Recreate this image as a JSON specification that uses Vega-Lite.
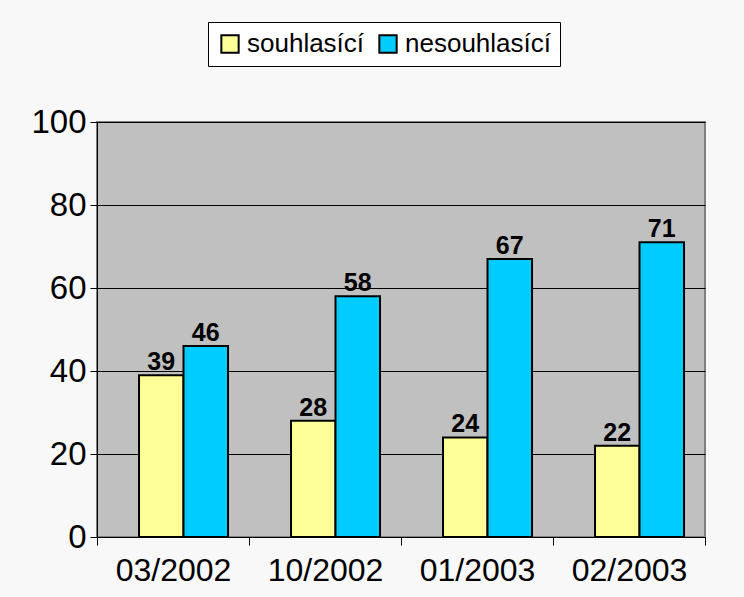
{
  "$schema": "https://vega.github.io/schema/vega-lite/v6.json",
  "width": 608,
  "height": 415,
  "autosize": "none",
  "padding": {"left": 97, "top": 122, "right": 39, "bottom": 60},
  "background": "#f8f8f8",
  "config": {
    "font": "Liberation Sans",
    "view": {"fill": "#c0c0c0", "stroke": "#808080", "strokeWidth": 2}
  },
  "data": {
    "values": [
      {"period": "03/2002", "group": "souhlasící", "value": 39},
      {"period": "03/2002", "group": "nesouhlasící", "value": 46},
      {"period": "10/2002", "group": "souhlasící", "value": 28},
      {"period": "10/2002", "group": "nesouhlasící", "value": 58},
      {"period": "01/2003", "group": "souhlasící", "value": 24},
      {"period": "01/2003", "group": "nesouhlasící", "value": 67},
      {"period": "02/2003", "group": "souhlasící", "value": 22},
      {"period": "02/2003", "group": "nesouhlasící", "value": 71}
    ]
  },
  "encoding": {
    "x": {
      "field": "period",
      "type": "nominal",
      "sort": ["03/2002", "10/2002", "01/2003", "02/2003"],
      "scale": {"paddingInner": 0, "paddingOuter": 0},
      "axis": {
        "title": null,
        "labelAngle": 0,
        "labelFontSize": 32,
        "labelColor": "black",
        "labelPadding": 10,
        "domainColor": "black",
        "tickColor": "black",
        "tickBand": "extent",
        "tickSize": 8
      }
    },
    "xOffset": {
      "field": "group",
      "type": "nominal",
      "sort": ["souhlasící", "nesouhlasící"],
      "scale": {"paddingInner": 0, "paddingOuter": 0.708, "align": 0.667}
    },
    "y": {
      "field": "value",
      "type": "quantitative",
      "scale": {"domain": [0, 100], "nice": false},
      "axis": {
        "title": null,
        "values": [0, 20, 40, 60, 80, 100],
        "labelFontSize": 33,
        "labelColor": "black",
        "labelPadding": 4,
        "domainColor": "black",
        "tickColor": "black",
        "tickSize": 7,
        "gridColor": "black",
        "gridWidth": 1
      }
    }
  },
  "layer": [
    {
      "mark": {"type": "bar", "stroke": "black", "strokeWidth": 2},
      "encoding": {
        "color": {
          "field": "group",
          "type": "nominal",
          "sort": ["souhlasící", "nesouhlasící"],
          "scale": {"domain": ["souhlasící", "nesouhlasící"], "range": ["#ffff99", "#00ccff"]},
          "legend": {
            "title": null,
            "orient": "none",
            "legendX": 111,
            "legendY": -100,
            "direction": "horizontal",
            "fillColor": "white",
            "strokeColor": "black",
            "padding": 9,
            "labelFontSize": 26,
            "labelColor": "black",
            "symbolType": "square",
            "symbolSize": 300,
            "symbolStrokeColor": "black",
            "symbolStrokeWidth": 2,
            "columnPadding": 10,
            "labelOffset": 4
          }
        }
      }
    },
    {
      "mark": {"type": "text", "baseline": "bottom", "dy": 0, "fontSize": 25, "fontWeight": "bold", "color": "black"},
      "encoding": {"text": {"field": "value", "type": "quantitative"}}
    }
  ]
}
